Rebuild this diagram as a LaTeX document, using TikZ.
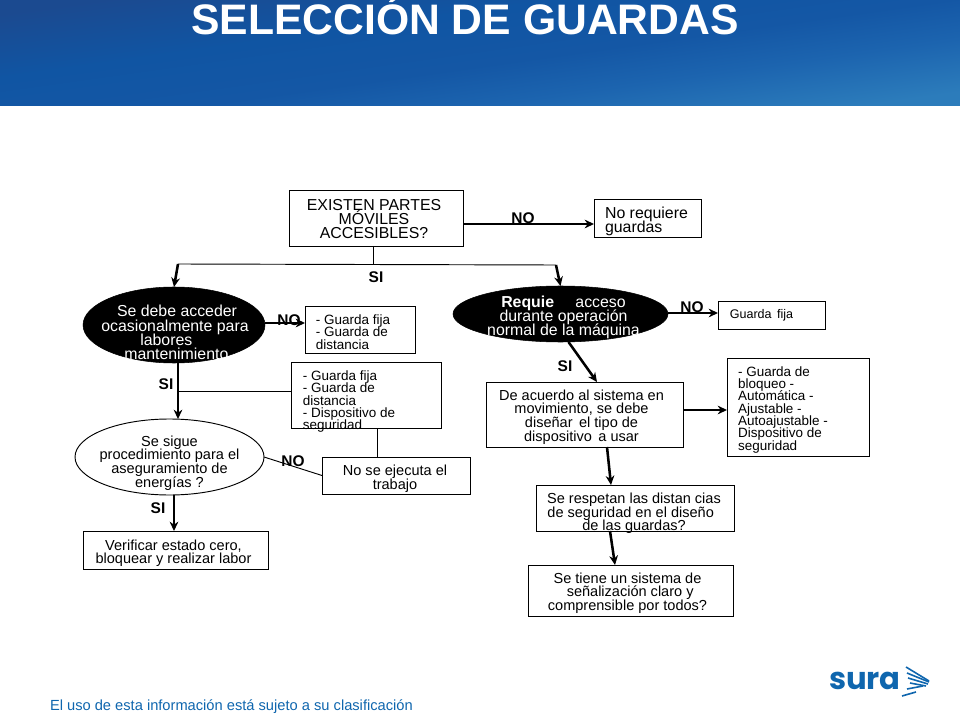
\documentclass[tikz,border=0pt]{standalone}
\usepackage{fontspec}
\setmainfont{Liberation Sans}
\newfontfamily\logofont{Poppins}
\usetikzlibrary{arrows.meta,shapes.geometric}
\newdimen\pxu
\pxu=0.75pt
% text of a node, moved by dx,dy (pixels) and taking no room in the node
\newcommand{\celltext}[4]{\raisebox{\dimexpr 0pt-6\pxu-(#2\pxu)\relax}[0pt][0pt]{\kern#1\pxu\kern#1\pxu\makebox[0pt]{$\vcenter{\lineskiplimit=-100pt\let\\\cr\halign{#3##\hfil\cr#4\crcr}}$}}}
\definecolor{headLeft}{HTML}{1B4A90}
\definecolor{headMid}{HTML}{1055A3}
\definecolor{headSoft}{HTML}{1457A5}
\definecolor{headLight}{HTML}{1C64AF}
\definecolor{headRight}{HTML}{2C7CBB}
\definecolor{suraBlue}{HTML}{0F66AE}
\pgfdeclareverticalshading{headShade}{100bp}{color(0bp)=(headRight); color(25bp)=(headRight); color(37.5bp)=(headLight); color(47bp)=(headSoft); color(60bp)=(headMid); color(75bp)=(headLeft); color(100bp)=(headLeft)}

\begin{document}
\begin{tikzpicture}[x=0.75pt,y=-0.75pt]
    \tikzstyle{every node} = [inner sep=0pt, outer sep=0pt]
    \tikzstyle{block} = [draw, rectangle, line width=0.7pt]
    \tikzstyle{darkEllipse} = [draw, ellipse, fill=black, text=white]
    \tikzstyle{lightEllipse} = [draw, ellipse, fill=white, line width=0.7pt]
    \tikzstyle{big} = [font=\fontsize{11.9}{10.6}\selectfont]
    \tikzstyle{mid} = [font=\fontsize{10.9}{10.2}\selectfont]
    \tikzstyle{small} = [font=\fontsize{10.1}{9.25}\selectfont]
    \tikzstyle{answer} = [font=\fontsize{11.6}{12}\selectfont\bfseries]
    \tikzstyle{arrowline} = [-{Stealth[length=7pt,width=6.5pt]}, line width=1.9pt]
    \tikzstyle{plainline} = [line width=0.7pt]
    \useasboundingbox (0,0) rectangle (960,720);

    % header
    \shade[shading=headShade, shading angle=8] (0,0) rectangle (960,106);
    \node[font=\fontsize{32}{34}\selectfont\bfseries, text=white] (title) at (465,16) {SELECCIÓN DE GUARDAS};

    % place nodes
    \node[block,big,minimum width=174*\pxu,minimum height=56*\pxu] (exist) at (376,218)
    {\celltext{-2}{-1}{\hfil}{EXISTEN PARTES\\MÓVILES\\ACCESIBLES?}};
    \node[block,big,minimum width=107*\pxu,minimum height=38*\pxu] (noreq) at (647.5,218)
    {\celltext{-1}{1.5}{}{No requiere\\guardas}};
    \node[darkEllipse,big,minimum width=182*\pxu,minimum height=76*\pxu] (ellLeft) at (174,325)
    {\celltext{1}{5.5}{\hfil}{\hspace*{3pt}Se debe acceder\\ocasionalmente para\\labores\hspace*{13pt}\\\hspace*{2pt}mantenimiento}};
    \node[darkEllipse,big,minimum width=215*\pxu,minimum height=56*\pxu] (ellRight) at (560.5,314)
    {\celltext{3}{1.5}{\hfil}{\textbf{Requie}\hspace*{16pt}acceso\\durante operación\\normal de la máquina}};
    \node[block,small,minimum width=110*\pxu,minimum height=47*\pxu] (guardaA) at (360,329.5)
    {\celltext{-7}{0}{}{- Guarda fija\\- Guarda de\\distancia}};
    \node[block,small,minimum width=150*\pxu,minimum height=66*\pxu] (guardaB) at (366,395)
    {\celltext{-17}{4}{}{- Guarda fija\\- Guarda de\\distancia\\- Dispositivo de\\seguridad}};
    \node[block,small,minimum width=107*\pxu,minimum height=28*\pxu,font=\fontsize{9.4}{9}\selectfont] (guardaFija) at (771.5,315)
    {\celltext{-10}{-3}{\hfil}{Guarda\, fija}};
    \node[lightEllipse,mid,minimum width=189*\pxu,minimum height=76*\pxu] (ellCheck) at (169.5,457)
    {\celltext{0}{3.5}{\hfil}{Se sigue\\procedimiento para el\\aseguramiento de\\energías ?}};
    \node[block,mid,minimum width=148*\pxu,minimum height=37*\pxu] (noejec) at (396,475.5)
    {\celltext{-1}{1}{\hfil}{No se ejecuta el\\trabajo}};
    \node[block,mid,minimum width=185*\pxu,minimum height=38*\pxu] (verif) at (175.5,550)
    {\celltext{-2}{1}{\hfil}{Verificar estado cero,\\bloquear y realizar labor}};
    \node[block,mid,minimum width=197*\pxu,minimum height=65*\pxu] (acuerdo) at (584.5,414.5)
    {\celltext{-3}{0}{\hfil}{De acuerdo al sistema en\\movimiento, se debe\\diseñar\, el tipo de\\dispositivo\, a usar}};
    \node[block,small,minimum width=142*\pxu,minimum height=98*\pxu] (bloqueo) at (798,407)
    {\celltext{-15}{0}{}{- Guarda de\\bloqueo -\\Automática -\\Ajustable -\\Autoajustable -\\Dispositivo de\\seguridad}};
    \node[block,mid,minimum width=198*\pxu,minimum height=46*\pxu] (respetan) at (635,508)
    {\celltext{-1}{3}{\hfil}{Se respetan las distan cias\\de seguridad en el diseño\hspace*{5pt}\\de las guardas?}};
    \node[block,mid,minimum width=205*\pxu,minimum height=51*\pxu] (tiene) at (630.5,590.5)
    {\celltext{-3}{0}{\hfil}{Se tiene un sistema de\\\hspace*{4pt}señalización claro y\\comprensible por todos?}};

    \node[answer] (noExist) at (523,218) {NO};
    \node[answer] (siExist) at (376,277) {SI};
    \node[answer] (noLeft) at (289,320) {NO};
    \node[answer] (siLeft) at (166,384) {SI};
    \node[answer] (noCheck) at (293,461) {NO};
    \node[answer] (siCheck) at (158,508) {SI};
    \node[answer] (noRight) at (692,307) {NO};
    \node[answer] (siRight) at (565,366) {SI};

    \coordinate (splitMid) at (373,264);
    \coordinate (splitLeft) at (178,264);
    \coordinate (splitRight) at (556,265);
    \coordinate (branchGuard) at (178,391);

    % Connections
    \draw[plainline] ([xshift=-3*\pxu]exist.south)--(splitMid);
    \draw[plainline] (splitLeft)--(splitRight);
    \draw[arrowline] (splitLeft)--(ellLeft.north);
    \draw[arrowline] (splitRight)--(ellRight.north);
    \draw[arrowline] ([yshift=-6*\pxu]exist.east)--([yshift=-6*\pxu]noreq.west);
    \draw[arrowline] ([yshift=2*\pxu]ellLeft.east)--([yshift=6.5*\pxu]guardaA.west);
    \draw[arrowline] ([xshift=4*\pxu]ellLeft.south)--([xshift=8.5*\pxu]ellCheck.north);
    \draw[plainline] (branchGuard)--([yshift=4*\pxu]guardaB.west);
    \draw[plainline] ([xshift=11*\pxu]guardaB.south)--([xshift=-19*\pxu]noejec.north);
    \draw[plainline] (ellCheck.east)--(noejec.west);
    \draw[arrowline] ([xshift=4.5*\pxu]ellCheck.south)--([xshift=-1.5*\pxu]verif.north);
    \draw[arrowline] ([yshift=1*\pxu]ellRight.east)--([yshift=2*\pxu]guardaFija.west);
    \draw[arrowline] ([xshift=8*\pxu]ellRight.south)--([xshift=12.5*\pxu]acuerdo.north);
    \draw[arrowline] ([yshift=4.5*\pxu]acuerdo.east)--([yshift=-3*\pxu]bloqueo.west);
    \draw[arrowline] ([xshift=22.5*\pxu]acuerdo.south)--([xshift=-24*\pxu]respetan.north);
    \draw[arrowline] ([xshift=-25*\pxu]respetan.south)--([xshift=-15.5*\pxu]tiene.north);

    % footer and logo
    \node[anchor=west, font=\fontsize{11}{13}\selectfont, text=suraBlue] (footer) at (50,707)
    {El uso de esta información está sujeto a su clasificación};
    \node[anchor=west, font=\logofont\fontsize{23}{24}\selectfont\bfseries, text=suraBlue] (logo) at (829,681) {sura};
    \foreach \xa/\ya/\xb/\yb in {906/667/929/681, 907/673/929/682, 908/678/928/684, 910/683/926/686, 907/689/923/686, 902/696/916/692}
    \draw[suraBlue, line width=1.2pt] (\xa,\ya)--(\xb,\yb);
\end{tikzpicture}
\end{document}
